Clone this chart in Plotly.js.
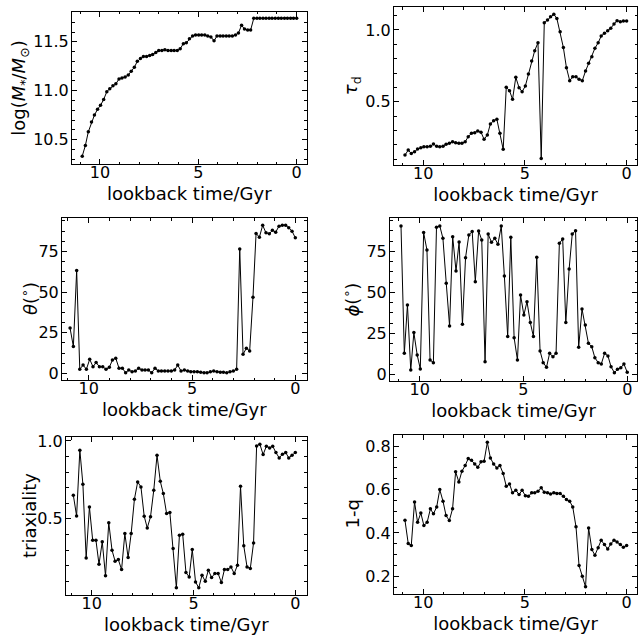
<!DOCTYPE html>
<html><head><meta charset="utf-8">
<script src="https://cdn.plot.ly/plotly-3.0.1.min.js"></script>
<style>html,body{margin:0;padding:0;background:#fff}</style>
</head><body><div id="chart" style="width:638px;height:635px"></div>
<script>
// lookback time (Gyr) of the snapshots
const lookbackTime = [10.90,10.74,10.59,10.43,10.28,10.12,9.97,9.81,9.65,9.50,9.34,9.19,9.03,8.88,8.72,8.56,8.41,8.25,8.10,7.94,7.79,7.63,7.47,7.32,7.16,7.01,6.85,6.70,6.54,6.38,6.23,6.07,5.92,5.76,5.61,5.45,5.29,5.14,4.98,4.83,4.67,4.52,4.36,4.20,4.05,3.89,3.74,3.58,3.43,3.27,3.11,2.96,2.80,2.65,2.49,2.34,2.18,2.02,1.87,1.71,1.56,1.40,1.25,1.09,0.93,0.78,0.62,0.47,0.31,0.16,0.00];
// lookback time (Gyr) of the shape measurements
const lookbackTimeShape = [10.90,10.74,10.58,10.43,10.27,10.11,9.95,9.79,9.64,9.48,9.32,9.16,9.00,8.85,8.69,8.53,8.37,8.21,8.06,7.90,7.74,7.58,7.42,7.27,7.11,6.95,6.79,6.63,6.48,6.32,6.16,6.00,5.84,5.69,5.53,5.37,5.21,5.06,4.90,4.74,4.58,4.42,4.27,4.11,3.95,3.79,3.63,3.48,3.32,3.16,3.00,2.84,2.69,2.53,2.37,2.21,2.05,1.90,1.74,1.58,1.42,1.26,1.11,0.95,0.79,0.63,0.47,0.32,0.16,0.00];
const logMstar = [10.33,10.44,10.58,10.68,10.75,10.81,10.85,10.91,10.99,11.02,11.05,11.07,11.12,11.13,11.14,11.16,11.20,11.24,11.30,11.33,11.35,11.35,11.36,11.37,11.39,11.41,11.41,11.42,11.41,11.41,11.41,11.41,11.43,11.48,11.49,11.53,11.56,11.57,11.57,11.57,11.57,11.56,11.55,11.51,11.56,11.56,11.56,11.56,11.56,11.56,11.57,11.59,11.67,11.63,11.62,11.62,11.74,11.74,11.74,11.74,11.74,11.74,11.74,11.74,11.74,11.74,11.74,11.74,11.74,11.74,11.74];
const tauD = [0.128,0.163,0.14,0.151,0.17,0.179,0.186,0.186,0.19,0.205,0.19,0.186,0.19,0.203,0.21,0.221,0.214,0.21,0.21,0.221,0.256,0.28,0.284,0.296,0.287,0.238,0.268,0.345,0.368,0.377,0.28,0.168,0.60,0.577,0.517,0.67,0.598,0.57,0.61,0.693,0.784,0.856,0.911,0.105,1.05,1.07,1.093,1.109,1.08,0.988,0.877,0.737,0.647,0.674,0.674,0.656,0.647,0.714,0.768,0.814,0.872,0.911,0.958,0.977,0.995,1.012,1.042,1.065,1.058,1.063,1.063];
const thetaDeg = [27.8,16.5,63.2,2.5,5.1,2.5,8.6,4.1,6.6,4.1,4.1,2.5,3.7,8.2,9.3,3.1,3.1,0.4,2,1,1.4,3.1,2,2,2,0.4,3.1,1.4,1.4,1.4,1.4,1.4,2,5.1,1.4,2,1.4,1,1,1,0.6,0.4,0.4,1,1.4,1,0.6,0.6,0.4,1,1.4,2.5,76.5,11.7,15.4,13.8,46.7,86,83.7,91,86.4,85.8,87.9,86.8,90.5,91,91,89.5,87.4,83.3];
const phiDeg = [90.4,12.8,42.3,2.6,25.4,11.8,3.2,86.4,75.8,8.7,7.1,89.6,90.4,82.9,55.5,29.5,83.9,63,80.7,30.5,71.1,85,87,56.5,87.4,81.9,7.7,85.5,80.5,82.9,79.3,90.4,60,23,83.5,22.3,8.7,48.3,36.1,44.3,31.5,23,71.3,14.2,7.1,4.3,12.8,10.7,12.8,79.9,82.5,31.5,64.2,85.5,87.6,16.5,39.8,30,18.9,16.8,10.1,7.1,6.3,12.8,11.2,4.6,1,3,4,6.3,1.2];
const triaxiality = [0.652,0.519,0.94,0.722,0.25,0.577,0.363,0.363,0.209,0.353,0.135,0.476,0.299,0.229,0.239,0.175,0.406,0.252,0.406,0.626,0.737,0.705,0.517,0.442,0.513,0.684,0.908,0.741,0.662,0.534,0.541,0.31,0.058,0.395,0.402,0.156,0.128,0.303,0.096,0.058,0.139,0.10,0.171,0.124,0.15,0.15,0.092,0.175,0.175,0.192,0.15,0.203,0.709,0.327,0.192,0.182,0.346,0.968,0.979,0.912,0.966,0.955,0.966,0.925,0.891,0.915,0.925,0.891,0.908,0.925];
const oneMinusQ = [0.458,0.351,0.342,0.543,0.449,0.492,0.434,0.449,0.511,0.488,0.52,0.60,0.546,0.48,0.457,0.511,0.682,0.635,0.685,0.711,0.743,0.735,0.718,0.703,0.728,0.731,0.818,0.746,0.718,0.70,0.711,0.674,0.615,0.626,0.585,0.597,0.577,0.597,0.572,0.569,0.585,0.585,0.592,0.608,0.588,0.585,0.58,0.585,0.582,0.582,0.569,0.554,0.546,0.52,0.428,0.249,0.20,0.151,0.423,0.323,0.297,0.331,0.366,0.346,0.326,0.349,0.366,0.358,0.346,0.334,0.342];

const xTitle = 'lookback time/Gyr';
const yTitles = ['log(<i>M</i><sub>*</sub>/<i>M</i><sub>⊙</sub>)', '<i>τ</i><sub>d</sub>', '<i>θ</i>(<sup>∘</sup>)', '<i>ϕ</i>(<sup>∘</sup>)', 'triaxiality', '1-q'];
const seriesY = [logMstar, tauD, thetaDeg, phiDeg, triaxiality, oneMinusQ];
const seriesX = [lookbackTime, lookbackTime, lookbackTimeShape, lookbackTime, lookbackTimeShape, lookbackTime];

const W = 638, H = 635;
const panels = [
  {box:[72,306.5,11.5,164], xr:[11.42,-0.50], yr:[10.25,11.81], dy:0.5, my:0.1, fmt:'.1f', tx:20},
  {box:[394,637,7.3,165], xr:[11.44,-0.51], yr:[0.059,1.158], dy:0.5, my:0.1, fmt:'.1f', tx:352},
  {box:[62,306.5,218,380], xr:[11.29,-0.54], yr:[-4.1,95.5], dy:25, my:6.25, fmt:'d', tx:29},
  {box:[390,637,218,381], xr:[11.43,-0.47], yr:[-4.1,95.3], dy:25, my:6.25, fmt:'d', tx:352},
  {box:[66,306.5,437,595], xr:[11.26,-0.55], yr:[0.012,1.025], dy:0.5, my:0.1, fmt:'.1f', tx:29},
  {box:[394,637,435,594], xr:[11.44,-0.51], yr:[0.118,0.852], dy:0.2, my:0.05, fmt:'.1f', tx:352}
];

const font = {family:'DejaVu Sans, sans-serif', color:'#000'};
const data = [];
const layout = {
  width:W, height:H, margin:{l:0,r:0,t:0,b:0},
  paper_bgcolor:'#fff', plot_bgcolor:'#fff', showlegend:false,
  font:Object.assign({size:16}, font), annotations:[]
};

panels.forEach((p, k) => {
  const n = k + 1, sfx = (n === 1 ? '' : String(n));
  const common = {ticks:'inside', mirror:'allticks', showline:true, linecolor:'#000', linewidth:1,
    tickcolor:'#000', ticklen:5, tickwidth:1, showgrid:false, zeroline:false,
    tickfont:Object.assign({size:16}, font)};
  layout['xaxis' + sfx] = Object.assign({}, common, {
    domain:[p.box[0]/W, p.box[1]/W], range:p.xr, anchor:'y' + sfx,
    tick0:0, dtick:5, ticklabelstandoff:-6,
    minor:{ticks:'inside', dtick:1, ticklen:2.5, tickcolor:'#000', tickwidth:1, showgrid:false},
    title:{text:xTitle, font:Object.assign({size:18}, font), standoff:6}
  });
  layout['yaxis' + sfx] = Object.assign({}, common, {
    domain:[1 - p.box[3]/H, 1 - p.box[2]/H], range:p.yr, anchor:'x' + sfx,
    tick0:0, dtick:p.dy, tickformat:p.fmt, ticklabelstandoff:-1,
    minor:{ticks:'inside', dtick:p.my, ticklen:2.5, tickcolor:'#000', tickwidth:1, showgrid:false}
  });
  layout.annotations.push({
    text:yTitles[k], xref:'paper', yref:'paper', x:p.tx/W, y:1 - (p.box[2] + p.box[3]) / 2 / H,
    xanchor:'center', yanchor:'middle', textangle:-90, showarrow:false,
    font:Object.assign({size:18}, font)
  });
  data.push({
    x:seriesX[k], y:seriesY[k], type:'scatter', mode:'lines+markers',
    xaxis:'x' + sfx, yaxis:'y' + sfx,
    line:{color:'#000', width:1}, marker:{color:'#000', size:3.5},
    hoverinfo:'x+y'
  });
});

Plotly.newPlot('chart', data, layout, {displayModeBar:false, staticPlot:true});
</script></body></html>
